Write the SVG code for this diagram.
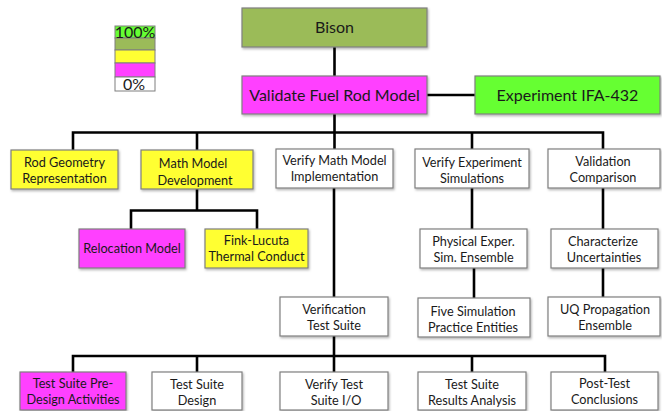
<svg xmlns="http://www.w3.org/2000/svg" width="662" height="411" viewBox="0 0 662 411">
<style>
  .box { stroke: #7f7f7f; stroke-width: 1.2; filter: url(#sh); }
  .w { fill: #ffffff; }
  .y { fill: #ffff33; }
  .m { fill: #ff40ff; }
  .g { fill: #66ff33; }
  .o { fill: #9bbb59; }
  text { font-family: Lato, "Open Sans", "Liberation Sans", sans-serif; font-size: 12.7px; fill: #1a1a1a; text-anchor: middle; }
  .big { font-size: 16px; }
  .leg { font-size: 16px; }
  .c { fill: none; stroke: #000000; stroke-width: 2.6; }
</style>
<defs>
  <filter id="sh" x="-10%" y="-10%" width="130%" height="140%">
    <feDropShadow dx="1" dy="1.5" stdDeviation="1" flood-color="#000000" flood-opacity="0.3"/>
  </filter>
</defs>

<g id="legend">
  <rect x="115" y="26" width="40" height="12" fill="#66ff33" stroke="#7f7f7f" stroke-width="1"/>
  <rect x="115" y="38" width="40" height="12" fill="#9bbb59" stroke="#7f7f7f" stroke-width="1"/>
  <rect x="115" y="50" width="40" height="13" fill="#ffff33" stroke="#7f7f7f" stroke-width="1"/>
  <rect x="115" y="63" width="40" height="14" fill="#ff40ff" stroke="#7f7f7f" stroke-width="1"/>
  <rect x="115" y="77" width="40" height="14" fill="#ffffff" stroke="#7f7f7f" stroke-width="1"/>
  <text class="leg" x="135" y="38">100%</text>
  <text class="leg" x="134" y="90">0%</text>
</g>

<g id="connectors">
  <path class="c" d="M334.5 47 V76"/>
  <path class="c" d="M427 95 H475" stroke-width="3"/>
  <path class="c" d="M334.5 114 V149"/>
  <path class="c" d="M73 150 V132.5 H603 V149"/>
  <path class="c" d="M197 150 V132.5"/>
  <path class="c" d="M472 149 V132.5"/>
  <path class="c" d="M197 189 V210.5"/>
  <path class="c" d="M131 229 V210.5 H257 V229"/>
  <path class="c" d="M334 188 V297"/>
  <path class="c" d="M472 188 V229"/>
  <path class="c" d="M474 268 V298"/>
  <path class="c" d="M603 188 V229"/>
  <path class="c" d="M603 268 V297"/>
  <path class="c" d="M334 336 V372"/>
  <path class="c" d="M73 372 V356 H605 V372"/>
  <path class="c" d="M197 372 V356"/>
  <path class="c" d="M472 372 V356"/>
</g>

<g id="bison"><rect class="box o" x="242" y="8" width="185" height="39"/><text class="big" x="334.5" y="33">Bison</text></g>
<g id="validate"><rect class="box m" x="242" y="76" width="185" height="38"/><text class="big" x="334.5" y="101">Validate Fuel Rod Model</text></g>
<g id="experiment"><rect class="box g" x="475" y="76" width="185" height="38"/><text class="big" x="567.5" y="101">Experiment IFA-432</text></g>

<g id="rod"><rect class="box y" x="11" y="150" width="107" height="39"/><text x="64.5" y="166.5">Rod Geometry</text><text x="64.5" y="182.5">Representation</text></g>
<g id="math"><rect class="box y" x="141" y="150" width="112" height="39"/><text x="193" y="168">Math Model</text><text x="195" y="184.5">Development</text></g>
<g id="verifymath"><rect class="box w" x="276" y="149" width="117" height="39"/><text x="334.5" y="165">Verify Math Model</text><text x="334.5" y="181">Implementation</text></g>
<g id="verifyexp"><rect class="box w" x="415" y="149" width="114" height="39"/><text x="472" y="166.5">Verify Experiment</text><text x="472" y="182.5">Simulations</text></g>
<g id="validation"><rect class="box w" x="548" y="149" width="112" height="39"/><text x="603" y="166">Validation</text><text x="603" y="182">Comparison</text></g>

<g id="relocation"><rect class="box m" x="79" y="229" width="106" height="39"/><text x="132" y="253">Relocation Model</text></g>
<g id="fink"><rect class="box y" x="205" y="229" width="103" height="39"/><text x="256.5" y="245">Fink-Lucuta</text><text x="256.5" y="261">Thermal Conduct</text></g>
<g id="physical"><rect class="box w" x="420" y="229" width="107" height="39"/><text x="473.5" y="246">Physical Exper.</text><text x="473.5" y="262">Sim. Ensemble</text></g>
<g id="characterize"><rect class="box w" x="551" y="229" width="107" height="39"/><text x="603" y="245.5">Characterize</text><text x="604" y="261.5">Uncertainties</text></g>

<g id="verification"><rect class="box w" x="280" y="297" width="108" height="39"/><text x="334" y="314">Verification</text><text x="334" y="330">Test Suite</text></g>
<g id="fivesim"><rect class="box w" x="418" y="298" width="112" height="39"/><text x="473" y="315.5">Five Simulation</text><text x="473" y="331.5">Practice Entities</text></g>
<g id="uq"><rect class="box w" x="548" y="297" width="112" height="39"/><text x="605" y="313.5">UQ Propagation</text><text x="605" y="329.5">Ensemble</text></g>

<g id="predesign"><rect class="box m" x="20" y="372" width="106" height="38"/><text x="73" y="388">Test Suite Pre-</text><text x="73" y="404">Design Activities</text></g>
<g id="design"><rect class="box w" x="152" y="372" width="90" height="38"/><text x="197" y="389">Test Suite</text><text x="197" y="405">Design</text></g>
<g id="verifyio"><rect class="box w" x="280" y="372" width="108" height="38"/><text x="334" y="389">Verify Test</text><text x="336" y="405">Suite I/O</text></g>
<g id="results"><rect class="box w" x="418" y="372" width="108" height="38"/><text x="472" y="388.5">Test Suite</text><text x="472" y="404.5">Results Analysis</text></g>
<g id="post"><rect class="box w" x="551" y="372" width="107" height="38"/><text x="604.5" y="388">Post-Test</text><text x="604.5" y="404">Conclusions</text></g>
</svg>
